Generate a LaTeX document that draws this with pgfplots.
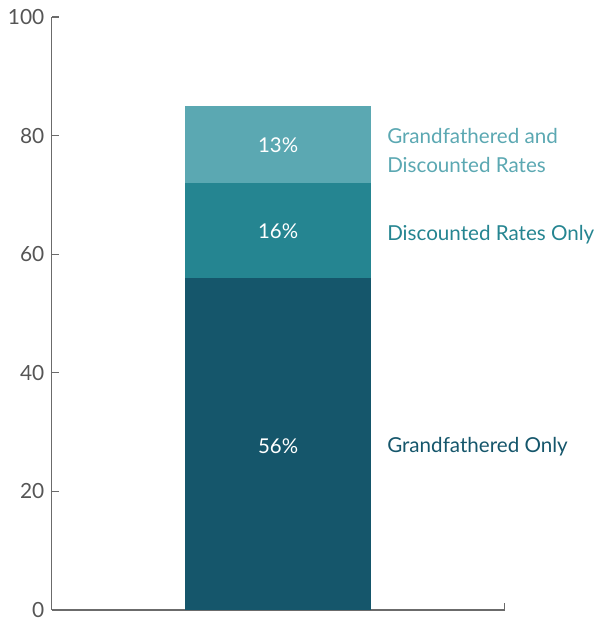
\documentclass[border=0pt]{standalone}
\usepackage{pgfplots}
\pgfplotsset{compat=1.18}
\usepackage{fontspec}
\setmainfont{Lato}
\definecolor{cdark}{HTML}{15566B}
\definecolor{cmid}{HTML}{258591}
\definecolor{clight}{HTML}{5BA8B2}
\definecolor{axgray}{HTML}{6B6B6B}
\definecolor{tickgray}{HTML}{555555}
\begin{document}
\begin{tikzpicture}
\useasboundingbox (-52pt,-11pt) rectangle (549pt,613pt);
\begin{axis}[
 at={(0,0)}, anchor=south west,
 width=455pt, height=596pt, scale only axis,
 xmin=-1, xmax=1, ymin=0, ymax=100,
 ybar stacked, bar width=187pt,
 axis lines*=left,
 axis line style={axgray, line width=1.2pt},
 ytick={0,20,...,100},
 xtick={1}, xticklabels={},
 tick align=inside, major tick length=7.5pt,
 tick style={axgray, line width=1.2pt},
 yticklabel style={font=\fontsize{21}{24}\selectfont, text=tickgray, xshift=-4pt},
 /pgf/number format/assume math mode=true,
 clip=false,
]
\addplot[fill=cdark, draw=none] coordinates {(0,56)};
\addplot[fill=cmid, draw=none] coordinates {(0,16)};
\addplot[fill=clight, draw=none] coordinates {(0,13)};
\coordinate (p1) at (axis cs:0,27.7);
\coordinate (p2) at (axis cs:0,63.8);
\coordinate (p3) at (axis cs:0,78.3);
\coordinate (l1) at (axis cs:0.481,27.5);
\coordinate (l2) at (axis cs:0.481,63.3);
\coordinate (l3) at (axis cs:0.481,77.5);
\end{axis}
\node[text=white, font=\fontsize{20.5}{24}\selectfont] at (p1) {56\%};
\node[text=white, font=\fontsize{20.5}{24}\selectfont] at (p2) {16\%};
\node[text=white, font=\fontsize{20.5}{24}\selectfont] at (p3) {13\%};
\node[anchor=west, inner sep=0pt, text=cdark, font=\fontsize{20.7}{24}\selectfont] at (l1) {Grandfathered Only};
\node[anchor=west, inner sep=0pt, text=cmid, font=\fontsize{20.7}{24}\selectfont] at (l2) {Discounted Rates Only};
\node[anchor=west, inner sep=0pt, text=clight, align=left, font=\fontsize{20.7}{29}\selectfont] at (l3) {Grandfathered and\\Discounted Rates};
\end{tikzpicture}
\end{document}
